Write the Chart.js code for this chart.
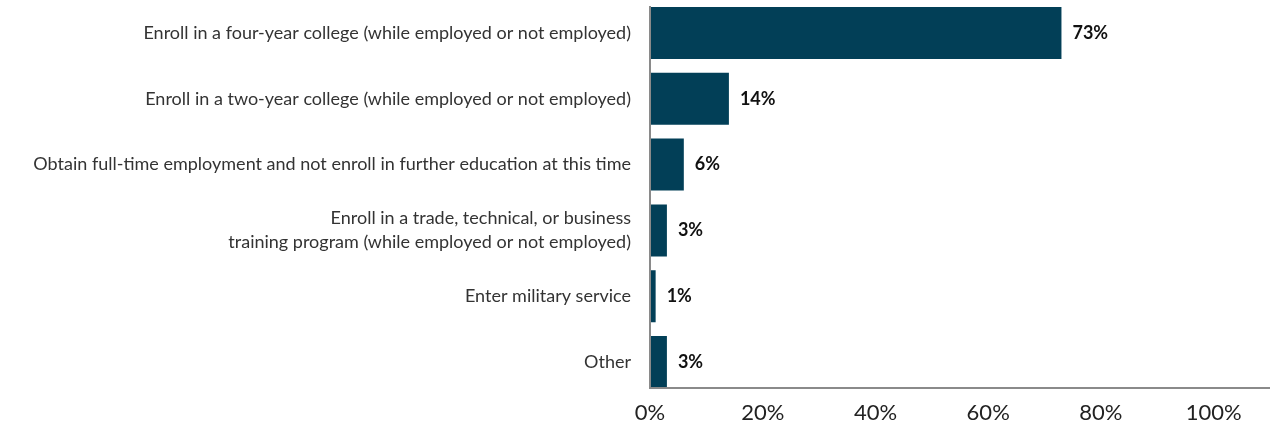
<!DOCTYPE html>
<html>
<head>
<meta charset="utf-8">
<script src="https://cdn.jsdelivr.net/npm/chart.js@4/dist/chart.umd.min.js"></script>
<style>
  html, body { margin: 0; padding: 0; background: #fff; }
  #wrap { width: 1270px; height: 427px; position: relative; }
</style>
</head>
<body>
<div id="wrap"><canvas id="plans-chart"></canvas></div>
<script>
// 毕业后计划 (percent of respondents)
const planLabels = [
    'Enroll in a four-year college (while employed or not employed)',
    'Enroll in a two-year college (while employed or not employed)',
    'Obtain full-time employment and not enroll in further education at this time',
    ['Enroll in a trade, technical, or business', 'training program (while employed or not employed)'],
    'Enter military service',
    'Other'
];
const planShares = [73, 14, 6, 3, 1, 3];
const xTickValues = [0, 20, 40, 60, 80, 100];

const BAR_COLOR = '#023f57';
const AXIS_COLOR = '#8a8a8a';
const FONT = 'Lato, "Open Sans", sans-serif';

// axis lines run from the top of the first bar to the bottom of the last one
const axisLines = {
    id: 'axisLines',
    afterDatasetsDraw(chart) {
        const bars = chart.getDatasetMeta(0).data;
        const first = bars[0], last = bars[bars.length - 1];
        const x0 = chart.scales.x.getPixelForValue(0);
        const top = first.y - first.height / 2 - 1;
        const bottom = last.y + last.height / 2;
        const ctx = chart.ctx;
        ctx.save();
        ctx.strokeStyle = AXIS_COLOR;
        ctx.lineWidth = 2;
        ctx.beginPath();
        ctx.moveTo(x0, top);
        ctx.lineTo(x0, bottom);
        ctx.lineTo(chart.width, bottom);
        ctx.stroke();
        ctx.restore();
    }
};

// value labels to the right of each bar
const valueLabels = {
    id: 'valueLabels',
    afterDatasetsDraw(chart) {
        const ctx = chart.ctx;
        const bars = chart.getDatasetMeta(0).data;
        ctx.save();
        ctx.font = 'bold 18px ' + FONT;
        ctx.fillStyle = '#111';
        ctx.textAlign = 'left';
        ctx.textBaseline = 'middle';
        bars.forEach((bar, i) => {
            ctx.fillText(planShares[i] + '%', bar.x + 11, bar.y);
        });
        ctx.restore();
    }
};

new Chart(document.getElementById('plans-chart'), {
    type: 'bar',
    data: {
        labels: planLabels,
        datasets: [{
            data: planShares,
            backgroundColor: BAR_COLOR,
            borderWidth: 0,
            barPercentage: 0.79,
            categoryPercentage: 1
        }]
    },
    options: {
        indexAxis: 'y',
        responsive: true,
        maintainAspectRatio: false,
        animation: false,
        layout: { padding: 0 },
        scales: {
            x: {
                min: 0,
                max: 110,
                afterBuildTicks(scale) {
                    scale.ticks = xTickValues.map(v => ({ value: v }));
                },
                afterFit(scale) {
                    scale.height = 32;
                    scale.paddingLeft = 0;
                    scale.paddingRight = 0;
                },
                grid: { display: false, drawTicks: false },
                border: { display: false },
                ticks: {
                    padding: 5,
                    color: '#222',
                    font: { family: FONT, size: 22 },
                    callback: v => v + '%'
                }
            },
            y: {
                afterFit(scale) {
                    scale.width = 650;
                    scale.paddingTop = 0;
                    scale.paddingBottom = 0;
                },
                grid: { display: false, drawTicks: false },
                border: { display: false },
                ticks: {
                    padding: 19,
                    color: '#333',
                    font: { family: FONT, size: 18, lineHeight: 1.33 }
                }
            }
        },
        plugins: {
            legend: { display: false },
            tooltip: { enabled: false }
        }
    },
    plugins: [axisLines, valueLabels]
});
</script>
</body>
</html>
